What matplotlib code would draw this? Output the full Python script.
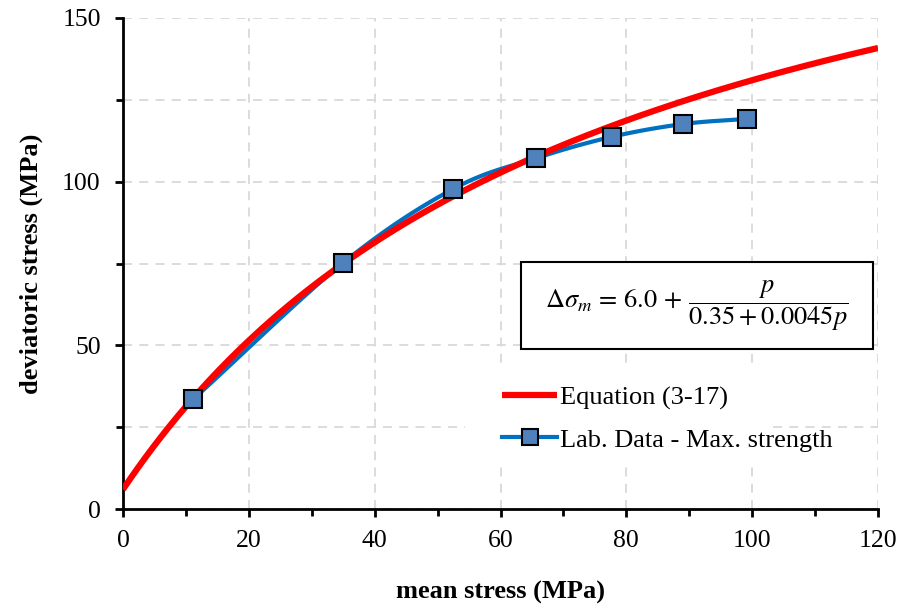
import numpy as np
import matplotlib.pyplot as plt
from matplotlib.patches import Rectangle
from matplotlib.ticker import MultipleLocator

plt.rcParams['font.family'] = ['Liberation Serif', 'DejaVu Serif']
plt.rcParams['mathtext.fontset'] = 'stix'

# lab data - max. strength
p_lab = [11.2, 35.0, 52.5, 65.7, 77.7, 89.0, 99.2]
q_lab = [33.6, 75.2, 97.8, 107.2, 113.7, 117.6, 119.2]

# equation (3-17) coefficients
a0, a1, a2 = 6.0, 0.35, 0.0045


def smooth_line(x, y, n=20):
    # Catmull-Rom smoothing through the points, like a spreadsheet smoothed line
    x = np.asarray(x, float)
    y = np.asarray(y, float)
    P = np.column_stack([x, y])
    P = np.vstack([P[0] - (P[1] - P[0]), P, P[-1] + (P[-1] - P[-2])])
    out = []
    for i in range(1, len(P) - 2):
        p0, p1, p2, p3 = P[i - 1], P[i], P[i + 1], P[i + 2]
        t = np.linspace(0, 1, n)[:, None]
        seg = 0.5 * ((2 * p1) + (-p0 + p2) * t + (2 * p0 - 5 * p1 + 4 * p2 - p3) * t**2
                     + (-p0 + 3 * p1 - 3 * p2 + p3) * t**3)
        out.append(seg)
    out = np.vstack(out)
    return out[:, 0], out[:, 1]


fig = plt.figure(figsize=(9, 6.08), dpi=100)
ax = fig.add_axes([123 / 900, 99 / 608, 755 / 900, 491 / 608])

p = np.linspace(0, 120, 300)
q = a0 + p / (a1 + a2 * p)
ax.plot(p, q, color='#ff0000', lw=4.5, label='Equation (3-17)', zorder=4, solid_capstyle='butt')

xs, ys = smooth_line(p_lab, q_lab)
ax.plot(xs, ys, color='#0070c0', lw=3, zorder=3)
ax.plot(p_lab, q_lab, ls='none', marker='s', ms=13, mfc='#4f81bd', mec='black', mew=1.5, zorder=5)
ax.plot([], [], color='#0070c0', lw=3, marker='s', ms=11.5, mfc='#4f81bd', mec='black', mew=1.5,
        label='Lab. Data - Max. strength')

ax.set_xlim(0, 120)
ax.set_ylim(0, 150)
ax.xaxis.set_major_locator(MultipleLocator(20))
ax.xaxis.set_minor_locator(MultipleLocator(10))
ax.yaxis.set_major_locator(MultipleLocator(50))
ax.yaxis.set_minor_locator(MultipleLocator(25))

ax.grid(True, which='major', axis='x', color='#d9d9d9', ls=(0, (5, 4)), lw=1.3)
ax.grid(True, which='both', axis='y', color='#d9d9d9', ls=(0, (5, 4)), lw=1.3)
ax.set_axisbelow(True)

for s in ['top', 'right']:
    ax.spines[s].set_visible(False)
for s in ['left', 'bottom']:
    ax.spines[s].set_linewidth(2)
ax.tick_params(which='major', direction='out', length=6, width=2, labelsize=18.5)
ax.tick_params(which='minor', direction='out', length=5, width=2)
ax.tick_params(axis='x', which='major', pad=9)
ax.tick_params(axis='y', which='major', pad=10)

ax.set_xlabel('mean stress (MPa)', fontsize=19, fontweight='bold', labelpad=21)
ax.set_ylabel('deviatoric stress (MPa)', fontsize=19, fontweight='bold', labelpad=14)

# white panel behind the legend, hiding the grid there
ax.add_patch(Rectangle((0.453, 0.086), 0.40, 0.207, transform=ax.transAxes,
                       fc='white', ec='none', zorder=1))

# equation box
ax.add_patch(Rectangle((0.527, 0.326), 0.466, 0.177, transform=ax.transAxes,
                       fc='white', ec='black', lw=1.5, zorder=6))
ax.text(0.76, 0.413, r'$\Delta\sigma_m\,=\,6.0\,+\,\dfrac{p}{0.35 + 0.0045p}$',
        transform=ax.transAxes, ha='center', va='center', fontsize=19, zorder=7)

leg = ax.legend(loc='center left', bbox_to_anchor=(0.502, 0.184), frameon=False,
                fontsize=19, handlelength=2.1, handletextpad=0.1,
                labelspacing=0.7, borderpad=0, borderaxespad=0)
leg.set_zorder(6)

fig.savefig('out.png', dpi=100)
